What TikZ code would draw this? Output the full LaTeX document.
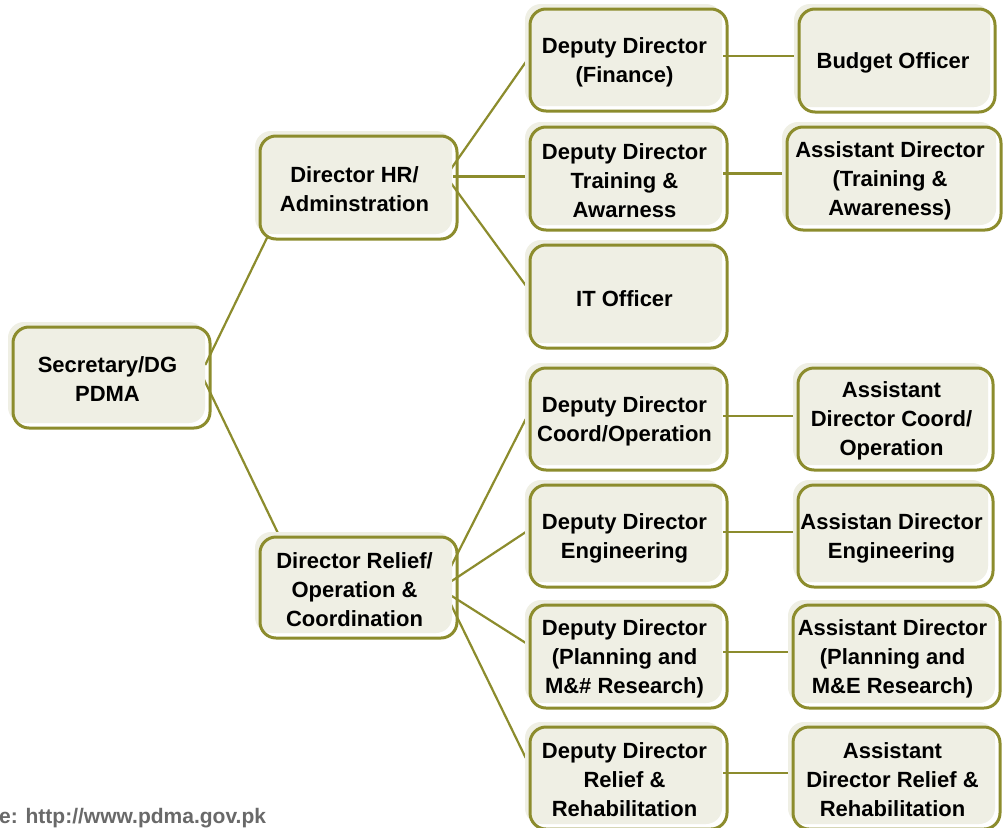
\documentclass[tikz,border=0pt]{standalone}
\usepackage{fontspec}
\setmainfont{Liberation Sans}
\usetikzlibrary{calc}
\definecolor{olive}{RGB}{140,140,45}
\definecolor{boxfill}{RGB}{239,239,228}
\definecolor{srcgray}{RGB}{105,105,105}
\pgfdeclarelayer{bg}
\pgfdeclarelayer{paper}
\pgfsetlayers{paper,bg,main}
\tikzset{
  boxtext/.style={inner sep=0pt, align=center, text=black,
    font=\bfseries\fontsize{22}{29}\selectfont},
  boxfillshape/.style={fill=boxfill, rounded corners=16pt},
  boxoutline/.style={draw=olive, line width=3pt, rounded corners=16pt},
  conn/.style={draw=olive, line width=2.2pt},
}
% name, x1, y1, x2, y2 (outline, pixel coords), text
\newcommand\orgbox[6]{%
  \fill[boxfillshape] ({#2-5},{-(#3)+5}) rectangle ({#4-5},{-(#5)+5});
  \draw[boxoutline] (#2,-#3) rectangle (#4,-#5);
  \node[boxtext, minimum width={(#4-#2)*1pt}, minimum height={(#5-#3)*1pt}]
    (#1) at ({(#2+#4)/2-4},{-(#3+#5)/2-2}) {#6};
}
\begin{document}
\begin{tikzpicture}[x=1pt,y=1pt]
\useasboundingbox (0,0) rectangle (1003,-827);
\begin{pgfonlayer}{paper}
  \fill[white] (0,0) rectangle (1003,-827);
\end{pgfonlayer}

\orgbox{sec}{13}{327}{210}{428}{Secretary/DG\\PDMA}
\orgbox{hr}{260}{136}{457}{239}{Director HR/\\Adminstration}
\orgbox{rel}{260}{537}{457}{638}{Director Relief/\\Operation \&\\Coordination}

\orgbox{fin}{530}{9}{727}{111}{Deputy Director\\(Finance)}
\orgbox{tra}{530}{127}{727}{230}{Deputy Director\\Training \&\\Awarness}
\orgbox{it}{530}{245}{727}{348}{IT Officer}
\orgbox{coord}{530}{368}{727}{470}{Deputy Director\\Coord/Operation}
\orgbox{eng}{530}{485}{727}{587}{Deputy Director\\Engineering}
\orgbox{plan}{530}{605}{727}{708}{Deputy Director\\(Planning and\\M\&\# Research)}
\orgbox{rr}{530}{727}{727}{829}{Deputy Director\\Relief \&\\Rehabilitation}

\orgbox{bud}{799}{9}{995}{112}{Budget Officer}
\orgbox{atra}{787}{127}{1001}{230}{Assistant Director\\(Training \&\\Awareness)}
\orgbox{acoord}{798}{368}{993}{470}{Assistant\\Director Coord/\\Operation}
\orgbox{aeng}{798}{485}{993}{587}{Assistan Director\\Engineering}
\orgbox{aplan}{793}{605}{1000}{708}{Assistant Director\\(Planning and\\M\&E Research)}
\orgbox{arr}{793}{727}{1000}{829}{Assistant\\Director Relief \&\\Rehabilitation}

\node[anchor=base west, inner sep=0pt, text=srcgray,
  font=\bfseries\fontsize{21}{25}\selectfont] (src) at (-1,-823) {e: http://www.pdma.gov.pk};

\begin{pgfonlayer}{bg}
  \draw[conn] ([shift={(-1,14.5)}]sec.east) -- ([shift={(12,5)}]hr.south west);
  \draw[conn] ([shift={(-3,1.5)}]sec.east) -- ([shift={(22,6)}]rel.north west);

  \draw[conn] ([shift={(-3,19.5)}]hr.east) -- ([yshift=0]fin.west);
  \draw[conn] ([yshift=4]tra.west -| hr.east) -- ([yshift=4]tra.west);
  \draw[conn] ([shift={(-3,7.5)}]hr.east) -- ([yshift=13]it.west);

  \draw[conn] ([shift={(-3,21.5)}]rel.east) -- ([yshift=2]coord.west);
  \draw[conn] ([shift={(-3,7.5)}]rel.east) -- ([yshift=6]eng.west);
  \draw[conn] ([shift={(-3,-5.5)}]rel.east) -- ([yshift=15.5]plan.west);
  \draw[conn] ([shift={(-3,-13.5)}]rel.east) -- ([yshift=22]rr.west);

  \draw[conn] ([yshift=6]fin.east) -- ([yshift=6]fin.east -| bud.west);
  \draw[conn] ([yshift=7]tra.east) -- ([yshift=7]tra.east -| atra.west);
  \draw[conn] ([yshift=5]coord.east) -- ([yshift=5]coord.east -| acoord.west);
  \draw[conn] ([yshift=6]eng.east) -- ([yshift=6]eng.east -| aeng.west);
  \draw[conn] ([yshift=6.5]plan.east) -- ([yshift=6.5]plan.east -| aplan.west);
  \draw[conn] ([yshift=7]rr.east) -- ([yshift=7]rr.east -| arr.west);
\end{pgfonlayer}
\end{tikzpicture}
\end{document}
